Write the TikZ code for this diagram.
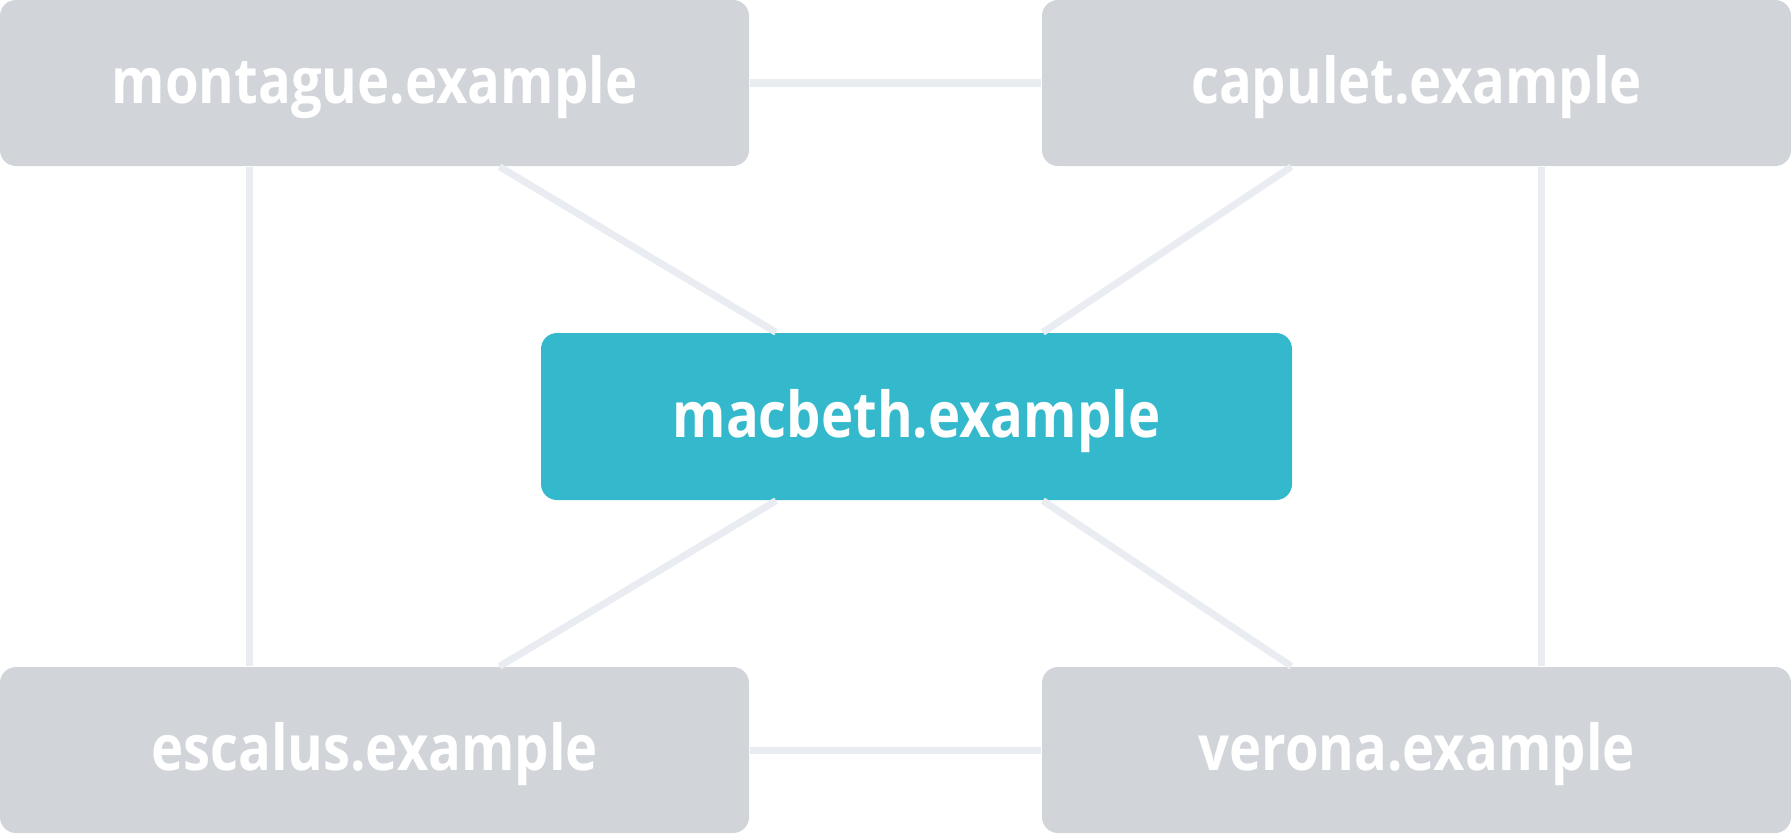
\documentclass[tikz,border=0pt]{standalone}
\usepackage{fontspec}
\setmainfont{Open Sans}
\newfontfamily\hostfont[FakeStretch=0.86]{Open Sans}
\usetikzlibrary{calc}
\definecolor{hostgray}{HTML}{D1D4D9}
\definecolor{hostteal}{HTML}{34B9CC}
\definecolor{linkgray}{HTML}{E9ECF1}
\tikzset{host/.style={fill=hostgray,rounded corners=0.16cm,minimum width=7.49cm,minimum height=1.66cm,inner sep=0pt,
    text height=0.61cm,text depth=0.2cm,text=white,font=\fontsize{18}{21}\hostfont\bfseries},
  mainhost/.style={host,fill=hostteal,minimum width=7.51cm,minimum height=1.67cm},
  link/.style={linkgray,line width=2pt}}

\begin{document}
\begin{tikzpicture}
  \useasboundingbox (0,0) rectangle (17.91,8.33);
  \node[host] (mon) at (3.745,7.50) {montague.example};
  \node[host] (cap) at (14.165,7.50) {capulet.example};
  \node[mainhost] (mac) at (9.165,4.165) {macbeth.example};
  \node[host] (esc) at (3.745,0.83) {escalus.example};
  \node[host] (ver) at (14.165,0.83) {verona.example};

  \draw[link] (mon) -- (cap);
  \draw[link] (esc) -- (ver);
  \draw[link] ($(mon.south west)!1/3!(mon.south east)$) -- ($(esc.north west)!1/3!(esc.north east)$);
  \draw[link] ($(cap.south west)!2/3!(cap.south east)$) -- ($(ver.north west)!2/3!(ver.north east)$);
  \draw[link] ($(mon.south west)!2/3!(mon.south east)$) -- (mac);
  \draw[link] ($(cap.south west)!1/3!(cap.south east)$) -- (mac);
  \draw[link] ($(esc.north west)!2/3!(esc.north east)$) -- (mac);
  \draw[link] ($(ver.north west)!1/3!(ver.north east)$) -- (mac);
\end{tikzpicture}
\end{document}
